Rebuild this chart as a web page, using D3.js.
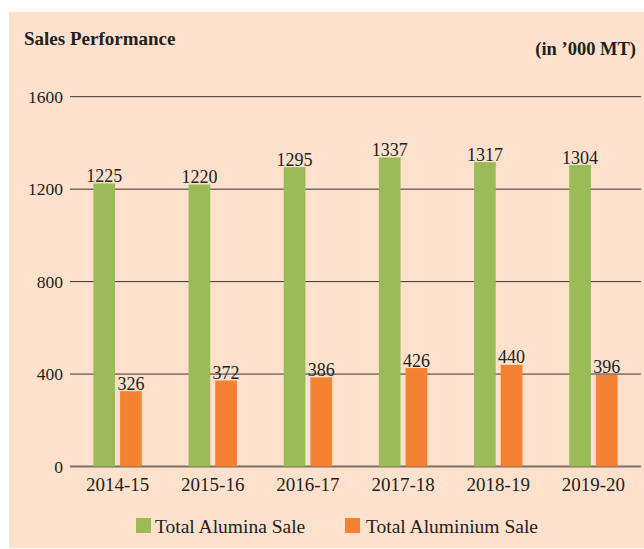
<!DOCTYPE html>
<html>
<head>
<meta charset="utf-8">
<script src="https://cdn.jsdelivr.net/npm/d3@7"></script>
<style>
  body { margin: 0; background: #fff; }
  svg text { font-family: "Liberation Serif", "Times New Roman", serif; fill: #231f20; }
</style>
</head>
<body>
<svg id="root"></svg>
<script>
// data
const years = ["2014-15", "2015-16", "2016-17", "2017-18", "2018-19", "2019-20"];
const series = ["Total Alumina Sale", "Total Aluminium Sale"];
const alumina = [1225, 1220, 1295, 1337, 1317, 1304];
const aluminium = [326, 372, 386, 426, 440, 396];
const yTicks = [0, 400, 800, 1200, 1600];
const colors = ["#9bbb59", "#f58233"];

const width = 644, height = 549;
const svg = d3.select("#root").attr("width", width).attr("height", height);

// panel background
svg.append("rect")
  .attr("x", 9).attr("y", 12)
  .attr("width", width - 9).attr("height", 536)
  .attr("fill", "#fde1cc");

const x = d3.scaleBand().domain(years).range([70, 641]);
const xInner = d3.scaleBand().domain(series)
  .range([x.bandwidth() / 2 - 24.2, x.bandwidth() / 2 + 24.2])
  .paddingInner(0.187);
const y = d3.scaleLinear().domain([0, 1600]).range([466.5, 96.7]);

// gridlines + y labels
const grid = svg.append("g");
grid.selectAll("line").data(yTicks).join("line")
  .attr("x1", 70).attr("x2", 641)
  .attr("y1", d => y(d)).attr("y2", d => y(d))
  .attr("stroke", d => d === 0 ? "#7d706a" : "#3a3230")
  .attr("stroke-width", d => d === 0 ? 2.2 : 1);
grid.selectAll("text").data(yTicks).join("text")
  .attr("x", 63).attr("y", d => y(d) + 6)
  .attr("text-anchor", "end")
  .style("font-size", "17.5px")
  .text(d => d);

// bars
const rows = years.map((yr, i) => ({ year: yr, values: [alumina[i], aluminium[i]] }));
const groups = svg.append("g").selectAll("g").data(rows).join("g")
  .attr("transform", d => `translate(${x(d.year)},0)`);

groups.selectAll("rect")
  .data(d => d.values.map((v, j) => ({ key: series[j], v, j })))
  .join("rect")
  .attr("x", d => xInner(d.key))
  .attr("width", xInner.bandwidth())
  .attr("y", d => y(d.v))
  .attr("height", d => y(0) - y(d.v))
  .attr("fill", d => colors[d.j]);

groups.selectAll("text.val")
  .data(d => d.values.map((v, j) => ({ key: series[j], v })))
  .join("text")
  .attr("class", "val")
  .attr("x", d => xInner(d.key) + xInner.bandwidth() / 2)
  .attr("y", d => y(d.v) - 1.5)
  .attr("text-anchor", "middle")
  .style("font-size", "18px")
  .text(d => d.v);

// x labels
svg.append("g").selectAll("text").data(years).join("text")
  .attr("x", d => x(d) + x.bandwidth() / 2)
  .attr("y", 490.5)
  .attr("text-anchor", "middle")
  .style("font-size", "19px")
  .text(d => d);

// titles
svg.append("text")
  .attr("x", 24).attr("y", 45)
  .style("font-size", "19px").style("font-weight", "bold")
  .text("Sales Performance");
svg.append("text")
  .attr("x", 636).attr("y", 55)
  .attr("text-anchor", "end")
  .style("font-size", "18.5px").style("font-weight", "bold")
  .text("(in ’000 MT)");

// legend
const legendX = [136, 345];
const legend = svg.append("g").selectAll("g").data(series).join("g")
  .attr("transform", (d, i) => `translate(${legendX[i]},518)`);
legend.append("rect")
  .attr("width", 15).attr("height", 15)
  .attr("fill", (d, i) => colors[i]);
legend.append("text")
  .attr("x", (d, i) => i === 0 ? 19 : 21).attr("y", 15)
  .style("font-size", "19.5px")
  .text(d => d);
</script>
</body>
</html>
